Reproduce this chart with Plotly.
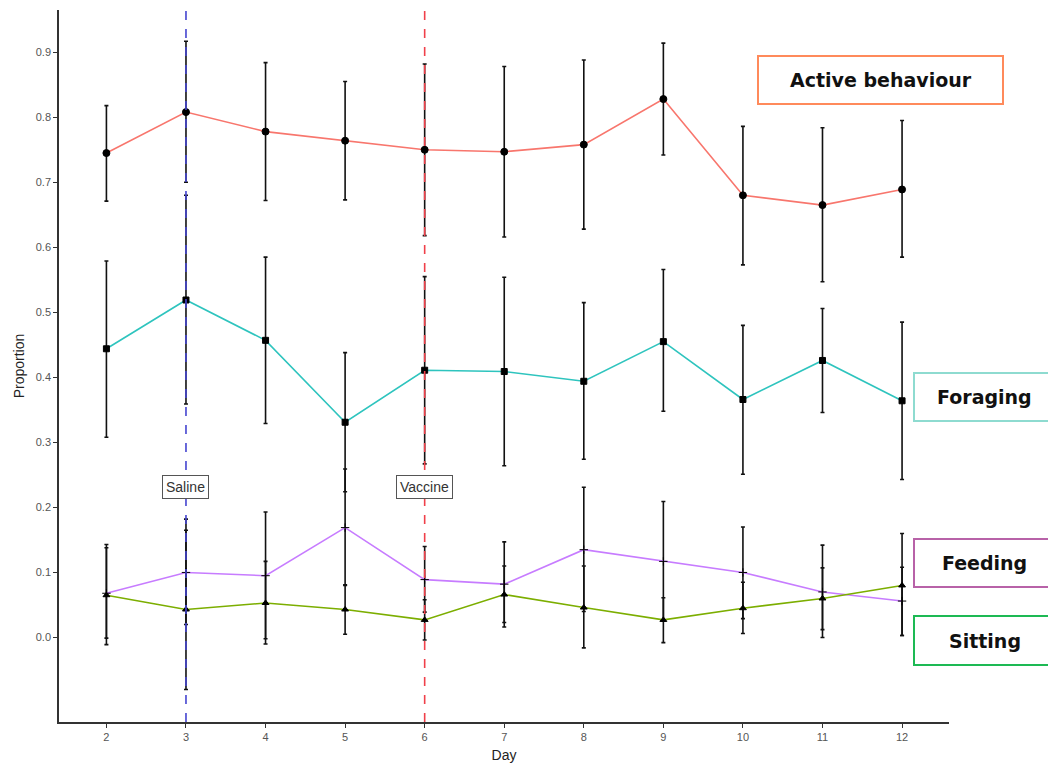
import plotly.graph_objects as go

days = [2, 3, 4, 5, 6, 7, 8, 9, 10, 11, 12]

active = [0.745, 0.808, 0.778, 0.764, 0.750, 0.747, 0.758, 0.828, 0.680, 0.665, 0.689]
active_hi = [0.818, 0.917, 0.884, 0.855, 0.882, 0.878, 0.888, 0.914, 0.786, 0.784, 0.795]
active_lo = [0.671, 0.700, 0.672, 0.673, 0.618, 0.616, 0.628, 0.742, 0.573, 0.547, 0.585]

foraging = [0.444, 0.519, 0.457, 0.331, 0.411, 0.409, 0.394, 0.455, 0.366, 0.426, 0.364]
foraging_hi = [0.579, 0.680, 0.585, 0.438, 0.555, 0.554, 0.515, 0.566, 0.480, 0.506, 0.485]
foraging_lo = [0.308, 0.359, 0.329, 0.224, 0.267, 0.264, 0.274, 0.348, 0.251, 0.346, 0.243]

feeding = [0.068, 0.100, 0.095, 0.169, 0.089, 0.082, 0.135, 0.117, 0.100, 0.070, 0.056]
feeding_hi = [0.138, 0.182, 0.193, 0.259, 0.140, 0.147, 0.231, 0.209, 0.170, 0.142, 0.108]
feeding_lo = [-0.001, 0.020, -0.002, 0.081, 0.039, 0.016, 0.040, 0.025, 0.029, 0.000, 0.003]

sitting = [0.065, 0.043, 0.053, 0.043, 0.027, 0.066, 0.046, 0.027, 0.045, 0.060, 0.080]
sitting_hi = [0.143, 0.165, 0.117, 0.080, 0.058, 0.110, 0.110, 0.061, 0.085, 0.107, 0.160]
sitting_lo = [-0.011, -0.080, -0.010, 0.005, -0.004, 0.023, -0.016, -0.008, 0.006, 0.012, 0.003]

y_ticks = [0.0, 0.1, 0.2, 0.3, 0.4, 0.5, 0.6, 0.7, 0.8, 0.9]
x_ticks = days

events = [(3, "Saline", "#4444D0"), (6, "Vaccine", "#F0404A")]
label_y = 0.231

series = [
    ("Active behaviour", active, active_hi, active_lo, "#F8766D", "circle", 7),
    ("Foraging", foraging, foraging_hi, foraging_lo, "#2EC4BE", "square", 6),
    ("Feeding", feeding, feeding_hi, feeding_lo, "#C77CFF", "cross-thin", 6),
    ("Sitting", sitting, sitting_hi, sitting_lo, "#7CAE00", "triangle-up", 6),
]

boxes = [
    ("Active behaviour", 758, 56, 1003, 104, "#FF8A5B", 881),
    ("Foraging", 914, 373, 1060, 421, "#8EDBD0", 984),
    ("Feeding", 914, 539, 1060, 587, "#B862A8", 985),
    ("Sitting", 914, 616, 1060, 665, "#1DB954", 985),
]

L, R, T, B = 59, 949, 10, 722
W, H = 1048, 764

fig = go.Figure()

for name, vals, hi, lo, col, sym, ms in series:
    fig.add_trace(go.Scatter(
        x=days, y=vals, mode="lines", name=name,
        line=dict(color=col, width=1.6),
        error_y=dict(type="data", symmetric=False,
                     array=[h - v for h, v in zip(hi, vals)],
                     arrayminus=[v - l for v, l in zip(vals, lo)],
                     color="#111111", thickness=1.6, width=2),
        showlegend=False,
    ))
for name, vals, hi, lo, col, sym, ms in series:
    fig.add_trace(go.Scatter(
        x=days, y=vals, mode="markers",
        marker=dict(color="black", size=ms, symbol=sym,
                    line=dict(color="black", width=1)),
        showlegend=False,
    ))

for xv, txt, col in events:
    fig.add_shape(type="line", x0=xv, x1=xv, xref="x", y0=0, y1=1, yref="paper",
                  line=dict(color=col, width=1.6, dash="dash"))
    fig.add_annotation(x=xv, y=label_y, xref="x", yref="y", text=txt, showarrow=False,
                       xanchor="center", yanchor="middle",
                       font=dict(family="Liberation Sans", size=14, color="#333333"),
                       bgcolor="white", bordercolor="#555555", borderwidth=1, borderpad=3)


def px_x(p):
    return (p - L) / (R - L)


def px_y(p):
    return (B - p) / (B - T)


for txt, x0, y0, x1, y1, col, cx in boxes:
    fig.add_shape(type="rect", xref="paper", yref="paper",
                  x0=px_x(x0), x1=px_x(x1), y0=px_y(y1), y1=px_y(y0),
                  line=dict(color=col, width=2), fillcolor="white", layer="above")
    fig.add_annotation(xref="paper", yref="paper", x=px_x(cx), y=px_y((y0 + y1) / 2),
                       xanchor="center", yanchor="middle",
                       text="<b>%s</b>" % txt, showarrow=False,
                       font=dict(family="DejaVu Sans", size=19, color="#111111"))

axis_common = dict(showline=True, linecolor="#333333", linewidth=1.6,
                   ticks="outside", ticklen=4, tickcolor="#333333", tickwidth=1,
                   showgrid=False, zeroline=False, automargin=False,
                   tickfont=dict(family="Liberation Sans", size=11, color="#555555"))

fig.update_xaxes(range=[1.404, 12.59], tickvals=x_ticks, **axis_common,
                 title=dict(text="Day", font=dict(family="Liberation Sans", size=14, color="#222222"),
                            standoff=8))
fig.update_yaxes(range=[-0.130, 0.965], tickvals=y_ticks, tickformat=".1f", **axis_common,
                 title=dict(text="Proportion", font=dict(family="Liberation Sans", size=14, color="#222222"),
                            standoff=8))

fig.update_layout(width=W, height=H, margin=dict(l=L, r=W - R, t=T, b=H - B, autoexpand=False),
                  plot_bgcolor="white", paper_bgcolor="white")

fig.write_html("out.html", config={"displayModeBar": False},
               post_script="document.body.style.margin='0';document.body.style.overflow='hidden';")
